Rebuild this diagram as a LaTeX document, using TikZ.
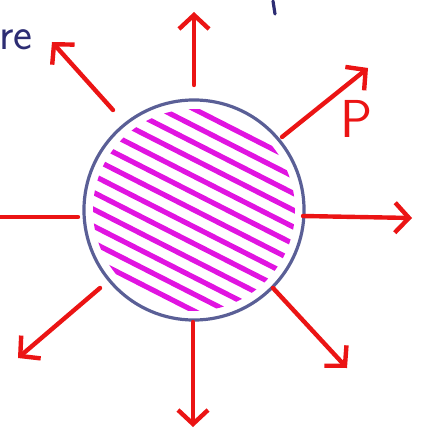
\documentclass[tikz,border=0pt]{standalone}
\usetikzlibrary{arrows.meta}
\definecolor{forcered}{RGB}{235,20,20}
\definecolor{hatchpink}{RGB}{225,20,225}
\definecolor{rimblue}{RGB}{90,95,150}
\definecolor{inkblue}{RGB}{45,45,115}
\tikzset{
  force/.style={draw=forcered,line width=1.1mm,line cap=round,
    -{Straight Barb[length=3.5mm,width=7.5mm]}},
  ball/.style={circle,draw=rimblue,line width=0.8mm,minimum size=5.5cm,inner sep=0pt},
  hatch/.style={draw=hatchpink,line width=1.3mm,line cap=round},
  ink/.style={inner sep=0pt,font=\sffamily\fontsize{32}{32}\selectfont}
}
\begin{document}
\begin{tikzpicture}[x=0.025cm,y=-0.025cm]
  \useasboundingbox (0,0) rectangle (426,432);
  % the ball
  \node[ball] (ball) at (194,210) {};
  \begin{scope}
    \clip (ball.center) circle (101);
    \foreach \d in {-105,-90,...,105}
      \draw[hatch,shift={(ball.center)},rotate=-27] (-140,\d) -- (140,\d);
  \end{scope}
  % tails and heads
  \coordinate (tN) at (194,85);   \coordinate (hN) at (194,12);
  \coordinate (tNW) at (113,110); \coordinate (hNW) at (52,42);
  \coordinate (tNE) at (282,137); \coordinate (hNE) at (368,68);
  \coordinate (tE) at (303,216);  \coordinate (hE) at (412,218);
  \coordinate (tW) at (0,217);    \coordinate (hW) at (78,217);
  \coordinate (tSW) at (100,288); \coordinate (hSW) at (18,358);
  \coordinate (tS) at (193,322);  \coordinate (hS) at (193,427);
  \coordinate (tSE) at (273,288); \coordinate (hSE) at (347,368);
  % forces
  \draw[force] (tN) -- (hN);
  \draw[force] (tNW) -- (hNW);
  \draw[force] (tNE) -- (hNE);
  \draw[force] (tE) -- (hE);
  \draw[force,-] (tW) -- (hW);
  \draw[force] (tSW) -- (hSW);
  \draw[force] (tS) -- (hS);
  \draw[force] (tSE) -- (hSE);
  % labels
  \node[ink,text=inkblue,anchor=east] (re) at (33,40) {re};
  \node[ink,text=forcered,font=\sffamily\fontsize{38}{38}\selectfont] (P) at (357,119) {P};
  \coordinate (m1) at (273,1); \coordinate (m2) at (275,14);
  \draw[inkblue,line width=0.8mm,line cap=round] (m1) -- (m2);
\end{tikzpicture}
\end{document}
